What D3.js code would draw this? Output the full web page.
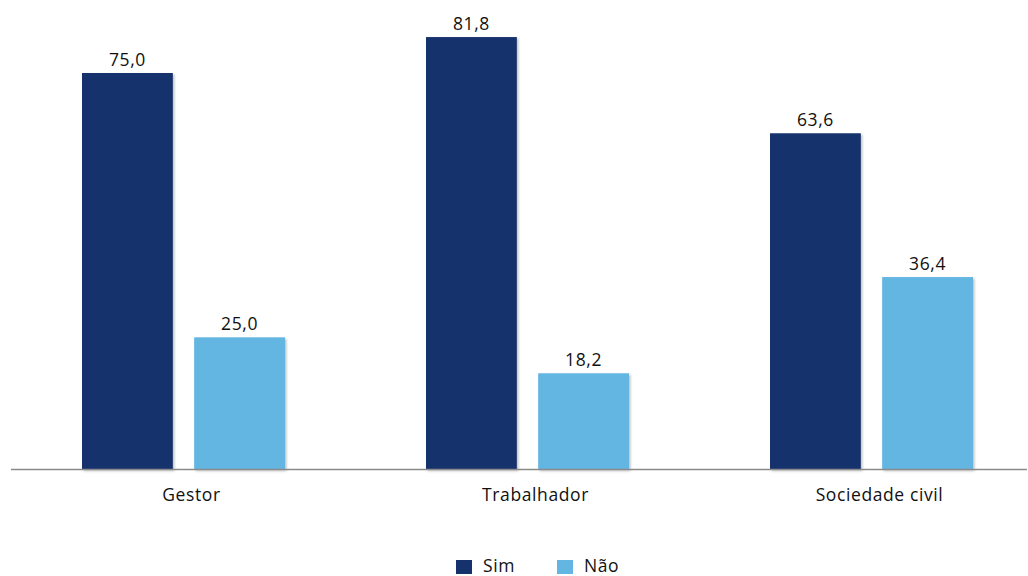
<!DOCTYPE html>
<html><head><meta charset="utf-8">
<script src="https://cdn.jsdelivr.net/npm/d3@7"></script>
<style>body{margin:0;background:#fff}svg{display:block;font-family:"Open Sans","Noto Sans",sans-serif}</style>
</head><body>
<svg id="c" width="1028" height="576"></svg>
<script>
const categories = ["Gestor", "Trabalhador", "Sociedade civil"];
const seriesNames = ["Sim", "Não"];
const sim = [75.0, 81.8, 63.6];
const nao = [25.0, 18.2, 36.4];
const colors = ["#16326d", "#63b6e2"];

const svg = d3.select("#c");
const baseY = 469.5;
const y = d3.scaleLinear().domain([0, 75]).range([baseY, 73]);
const x0 = d3.scaleBand().domain(categories).range([11.5, 1043.5]);
const x1 = d3.scaleBand().domain(seriesNames).range([-101.5, 101.5]).paddingInner(0.19).paddingOuter(0);
const fmt = v => v.toFixed(1).replace(".", ",");
const FS = 17.5, LS = 0.6;

const defs = svg.append("defs");
const f = defs.append("filter").attr("id","sh").attr("x","-10%").attr("y","-10%").attr("width","130%").attr("height","130%");
f.append("feDropShadow").attr("dx",1.5).attr("dy",1.5).attr("stdDeviation",1.2).attr("flood-color","#000").attr("flood-opacity",0.25);

const data = categories.map((c, i) => ({c, vals: [sim[i], nao[i]]}));
const g = svg.selectAll("g.grp").data(data).join("g").attr("class","grp")
  .attr("transform", d => `translate(${x0(d.c) + x0.bandwidth()/2},0)`);
g.selectAll("rect").data(d => d.vals.map((v, j) => ({v, s: seriesNames[j], j})))
  .join("rect")
  .attr("x", d => x1(d.s)).attr("width", x1.bandwidth())
  .attr("y", d => y(d.v)).attr("height", d => baseY - y(d.v))
  .attr("fill", d => colors[d.j]).attr("filter","url(#sh)");
g.selectAll("text.v").data(d => d.vals.map((v, j) => ({v, s: seriesNames[j]})))
  .join("text").attr("class","v")
  .attr("x", d => x1(d.s) + x1.bandwidth()/2).attr("y", d => y(d.v) - 7)
  .attr("text-anchor","middle").attr("font-size", FS).attr("letter-spacing", LS).attr("fill","#111")
  .text(d => fmt(d.v));

svg.append("line").attr("x1", 11).attr("x2", 1027).attr("y1", baseY).attr("y2", baseY)
  .attr("stroke", "#8a8a8a").attr("stroke-width", 1.6);

svg.selectAll("text.cat").data(categories).join("text").attr("class","cat")
  .attr("x", d => x0(d) + x0.bandwidth()/2 + 8).attr("y", 500.7)
  .attr("text-anchor","middle").attr("font-size", FS).attr("letter-spacing", LS).attr("fill","#111").text(d => d);

const leg = svg.append("g");
const legX = [456, 557];
seriesNames.forEach((s, i) => {
  leg.append("rect").attr("x", legX[i]).attr("y", 560).attr("width", 16).attr("height", 14).attr("fill", colors[i]);
  leg.append("text").attr("x", legX[i] + 27).attr("y", 572).attr("font-size", FS).attr("letter-spacing", LS).attr("fill","#111").text(s);
});
</script>
</body></html>
